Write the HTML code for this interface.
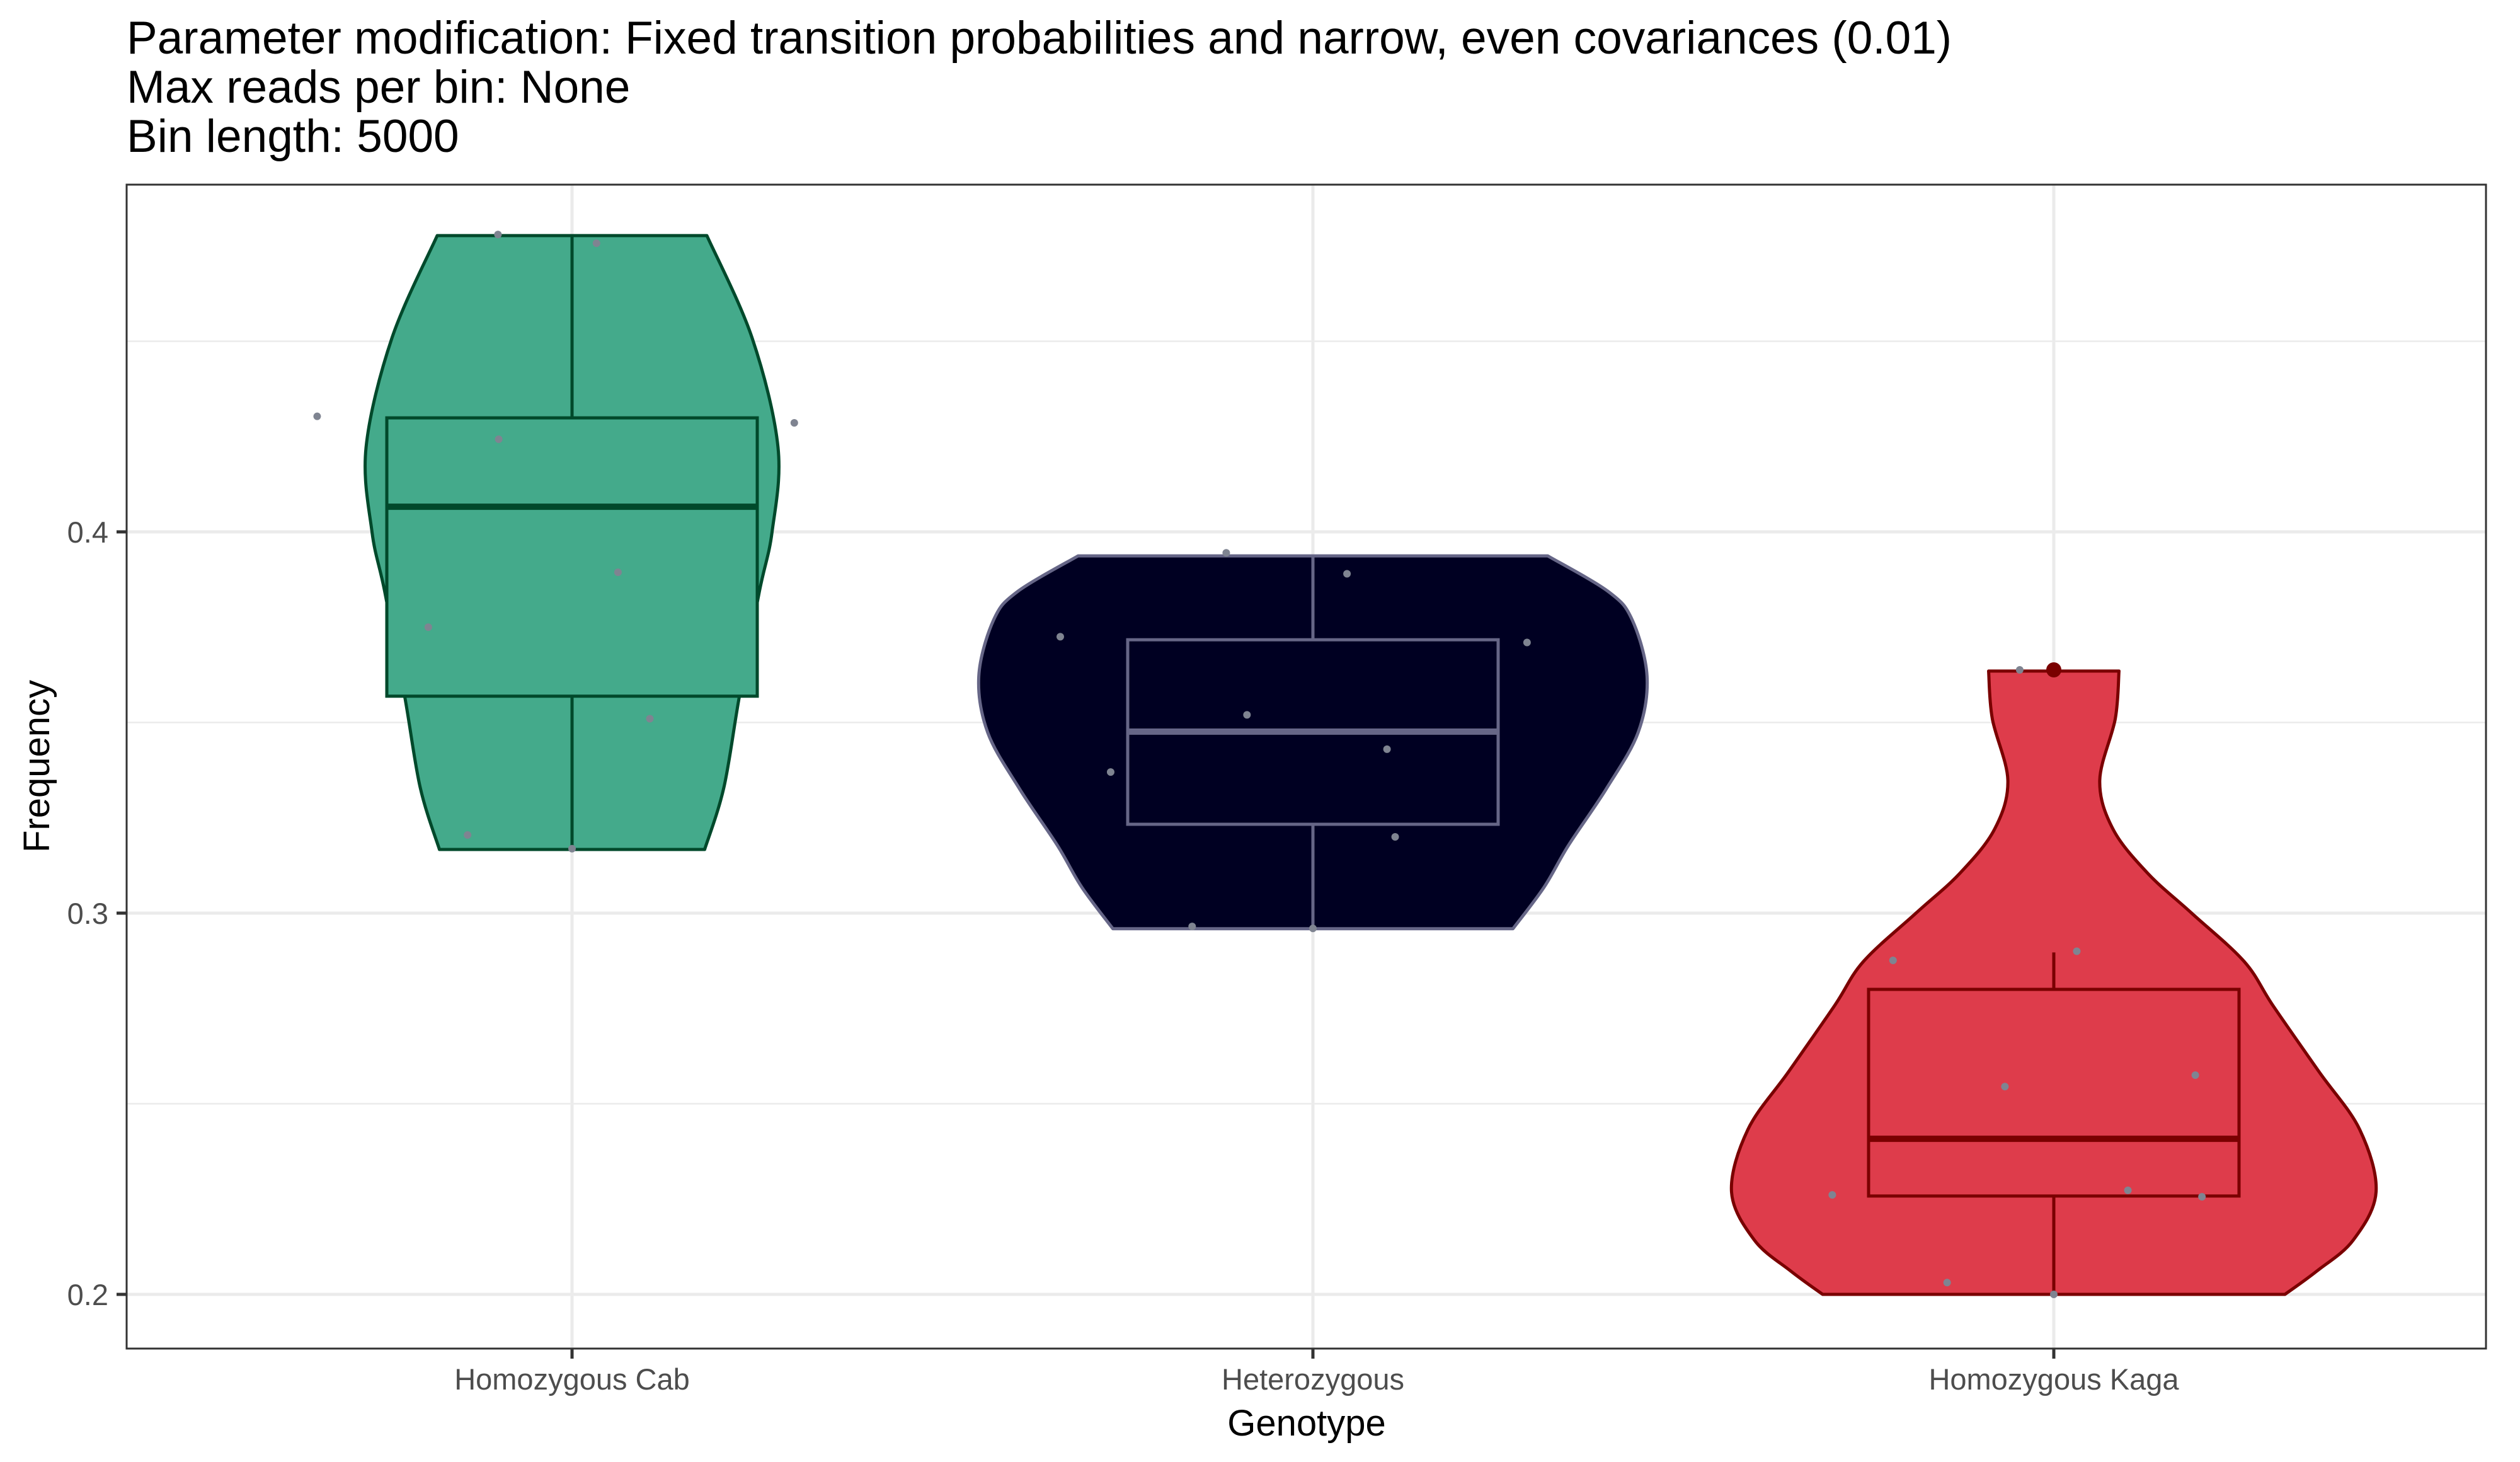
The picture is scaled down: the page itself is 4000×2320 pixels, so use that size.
<!DOCTYPE html>
<html><head><meta charset="utf-8"><style>
html,body{margin:0;padding:0;background:#fff;}
svg{display:block;font-family:"Liberation Sans",sans-serif;}
</style></head><body>
<svg id="chart" width="4000" height="2320" viewBox="0 0 4000 2320" xmlns="http://www.w3.org/2000/svg">
<rect width="4000" height="2320" fill="#fff"/>
<text x="201" y="85" font-size="73" fill="#000">Parameter modification: Fixed transition probabilities and narrow, even covariances (0.01)</text>
<text x="201" y="163" font-size="73" fill="#000">Max reads per bin: None</text>
<text x="201" y="241" font-size="73" fill="#000">Bin length: 5000</text>
<g id="plot"></g>
<text x="2074" y="2278" font-size="58" text-anchor="middle" fill="#000">Genotype</text>
<text transform="translate(78,1216) rotate(-90)" font-size="58" text-anchor="middle" fill="#000">Frequency</text>
</svg>
<script>
const categories = ["Homozygous Cab", "Heterozygous", "Homozygous Kaga"];
const yTicks = [0.2, 0.3, 0.4];
const yTickLabels = ["0.2", "0.3", "0.4"];
const yMinor = [0.25, 0.35, 0.45];
// violin outlines: values and half-widths (in category units)
const cabViolinY = [0.4777,0.4509,0.4222,0.4,0.3845,0.357,0.333,0.3167];
const cabViolinW = [0.182,0.243,0.278,0.270,0.253,0.226,0.205,0.179];
const hetViolinY = [0.3937,0.3843,0.3769,0.3621,0.3474,0.3326,0.3178,0.3068,0.2959];
const hetViolinW = [0.317,0.399,0.431,0.451,0.439,0.396,0.345,0.312,0.270];
const kagaViolinY = [0.3635,0.351,0.3348,0.322,0.3104,0.300,0.2873,0.2757,0.2584,0.2432,0.2269,0.2142,0.2061,0.2];
const kagaViolinW = [0.088,0.083,0.062,0.080,0.127,0.186,0.257,0.296,0.358,0.413,0.435,0.404,0.355,0.312];
// box stats: [min, q1, median, q3, max]
const cabBox = [0.3167,0.3569,0.4066,0.4299,0.4777];
const hetBox = [0.2959,0.3233,0.3476,0.3717,0.3937];
const kagaBox = [0.2,0.2258,0.2408,0.2800,0.2897];
const kagaOutliers = [0.3638];
// jittered points: offsets (category units) and values
const cabPtX = [-0.344,-0.100,0.033,-0.099,0.300,0.062,-0.194,0.105,-0.141,0];
const cabPtY = [0.4303,0.478,0.4757,0.4243,0.4286,0.3894,0.375,0.351,0.3205,0.3169];
const hetPtX = [-0.341,-0.117,0.046,0.289,-0.089,0.100,-0.273,0.111,-0.163,0];
const hetPtY = [0.3725,0.3945,0.389,0.371,0.352,0.343,0.337,0.320,0.2965,0.296];
const kagaPtX = [-0.046,-0.217,0.031,-0.066,0.191,-0.299,0.1,0.2,-0.144,0];
const kagaPtY = [0.3638,0.2876,0.290,0.2545,0.2575,0.2261,0.2273,0.2256,0.2031,0.2];

const P = {l:201, r:3946, t:293, b:2140};
const y = v => 2054 - (v - 0.2) * 6050;
const x = i => 908 + i * 1176;
const dx = u => u * 1176;
const NS = "http://www.w3.org/2000/svg";
const g = document.getElementById("plot");
function mk(tag, attrs, parent){const e=document.createElementNS(NS,tag);for(const k in attrs)e.setAttribute(k,attrs[k]);(parent||g).appendChild(e);return e;}

let e;
yMinor.forEach(v=>{e=mk("line",{x1:P.l,x2:P.r,y1:y(v),y2:y(v),stroke:"#EBEBEB","stroke-width":2.5});

});
yTicks.forEach(v=>{e=mk("line",{x1:P.l,x2:P.r,y1:y(v),y2:y(v),stroke:"#EBEBEB","stroke-width":5});

});
categories.forEach((c,i)=>{e=mk("line",{x1:x(i),x2:x(i),y1:P.t,y2:P.b,stroke:"#EBEBEB","stroke-width":5});

});

function smooth(pts){
  let d="M"+pts[0][0]+","+pts[0][1];
  for(let i=0;i<pts.length-1;i++){
    const p0=pts[Math.max(0,i-1)],p1=pts[i],p2=pts[i+1],p3=pts[Math.min(pts.length-1,i+2)];
    const c1=[p1[0]+(p2[0]-p0[0])/6,p1[1]+(p2[1]-p0[1])/6];
    const c2=[p2[0]-(p3[0]-p1[0])/6,p2[1]-(p3[1]-p1[1])/6];
    d+=" C"+c1[0]+","+c1[1]+" "+c2[0]+","+c2[1]+" "+p2[0]+","+p2[1];
  }
  return d;
}
const groups=[
 {vy:cabViolinY,vw:cabViolinW,box:cabBox,px:cabPtX,py:cabPtY,out:[],fill:"#44AA8B",stroke:"#00492B",name:"cab"},
 {vy:hetViolinY,vw:hetViolinW,box:hetBox,px:hetPtX,py:hetPtY,out:[],fill:"#000022",stroke:"#666687",name:"het"},
 {vy:kagaViolinY,vw:kagaViolinW,box:kagaBox,px:kagaPtX,py:kagaPtY,out:kagaOutliers,fill:"#DE3C4B",stroke:"#7A0000",name:"kaga"}
];
groups.forEach((G,i)=>{
  const cx=x(i);
  const right=G.vy.map((v,k)=>[cx+dx(G.vw[k]),y(v)]);
  const left=G.vy.map((v,k)=>[cx-dx(G.vw[k]),y(v)]).reverse();
  let d=smooth(right)+" L"+left[0][0]+","+left[0][1]+smooth(left).replace(/^M[^C]*/," ")+" Z";
  e=mk("path",{d:d,fill:G.fill,stroke:G.stroke,"stroke-width":5,"stroke-linejoin":"round"});
  
  
  const bw=dx(0.25), b=G.box;
  e=mk("line",{x1:cx,x2:cx,y1:y(b[4]),y2:y(b[3]),stroke:G.stroke,"stroke-width":5});
  
  
  e=mk("line",{x1:cx,x2:cx,y1:y(b[1]),y2:y(b[0]),stroke:G.stroke,"stroke-width":5});
  
  
  e=mk("rect",{x:cx-bw,y:y(b[3]),width:2*bw,height:y(b[1])-y(b[3]),fill:G.fill,stroke:G.stroke,"stroke-width":5});
  
  
  e=mk("line",{x1:cx-bw,x2:cx+bw,y1:y(b[2]),y2:y(b[2]),stroke:G.stroke,"stroke-width":10});
  
  
  G.out.forEach(v=>{e=mk("circle",{cx:cx,cy:y(v),r:12,fill:G.stroke});
  
  });
  G.py.forEach((v,k)=>{e=mk("circle",{cx:cx+dx(G.px[k]),cy:y(v),r:6,fill:"#7F8491"});
  
  });
  e=mk("line",{x1:cx,x2:cx,y1:P.b,y2:P.b+16,stroke:"#333","stroke-width":5});
  
  
  e=mk("text",{x:cx,y:2205,"font-size":47,"text-anchor":"middle",fill:"#4D4D4D"});
  e.textContent=categories[i];
  
  
});
yTicks.forEach((v,k)=>{
  e=mk("line",{x1:P.l-16,x2:P.l,y1:y(v),y2:y(v),stroke:"#333","stroke-width":5});
  
  
  e=mk("text",{x:172,y:y(v)+17,"font-size":47,"text-anchor":"end",fill:"#4D4D4D"});
  e.textContent=yTickLabels[k];
  
  
});
e=mk("rect",{x:P.l,y:P.t,width:P.r-P.l,height:P.b-P.t,fill:"none",stroke:"#333","stroke-width":3});


</script>
</body></html>
